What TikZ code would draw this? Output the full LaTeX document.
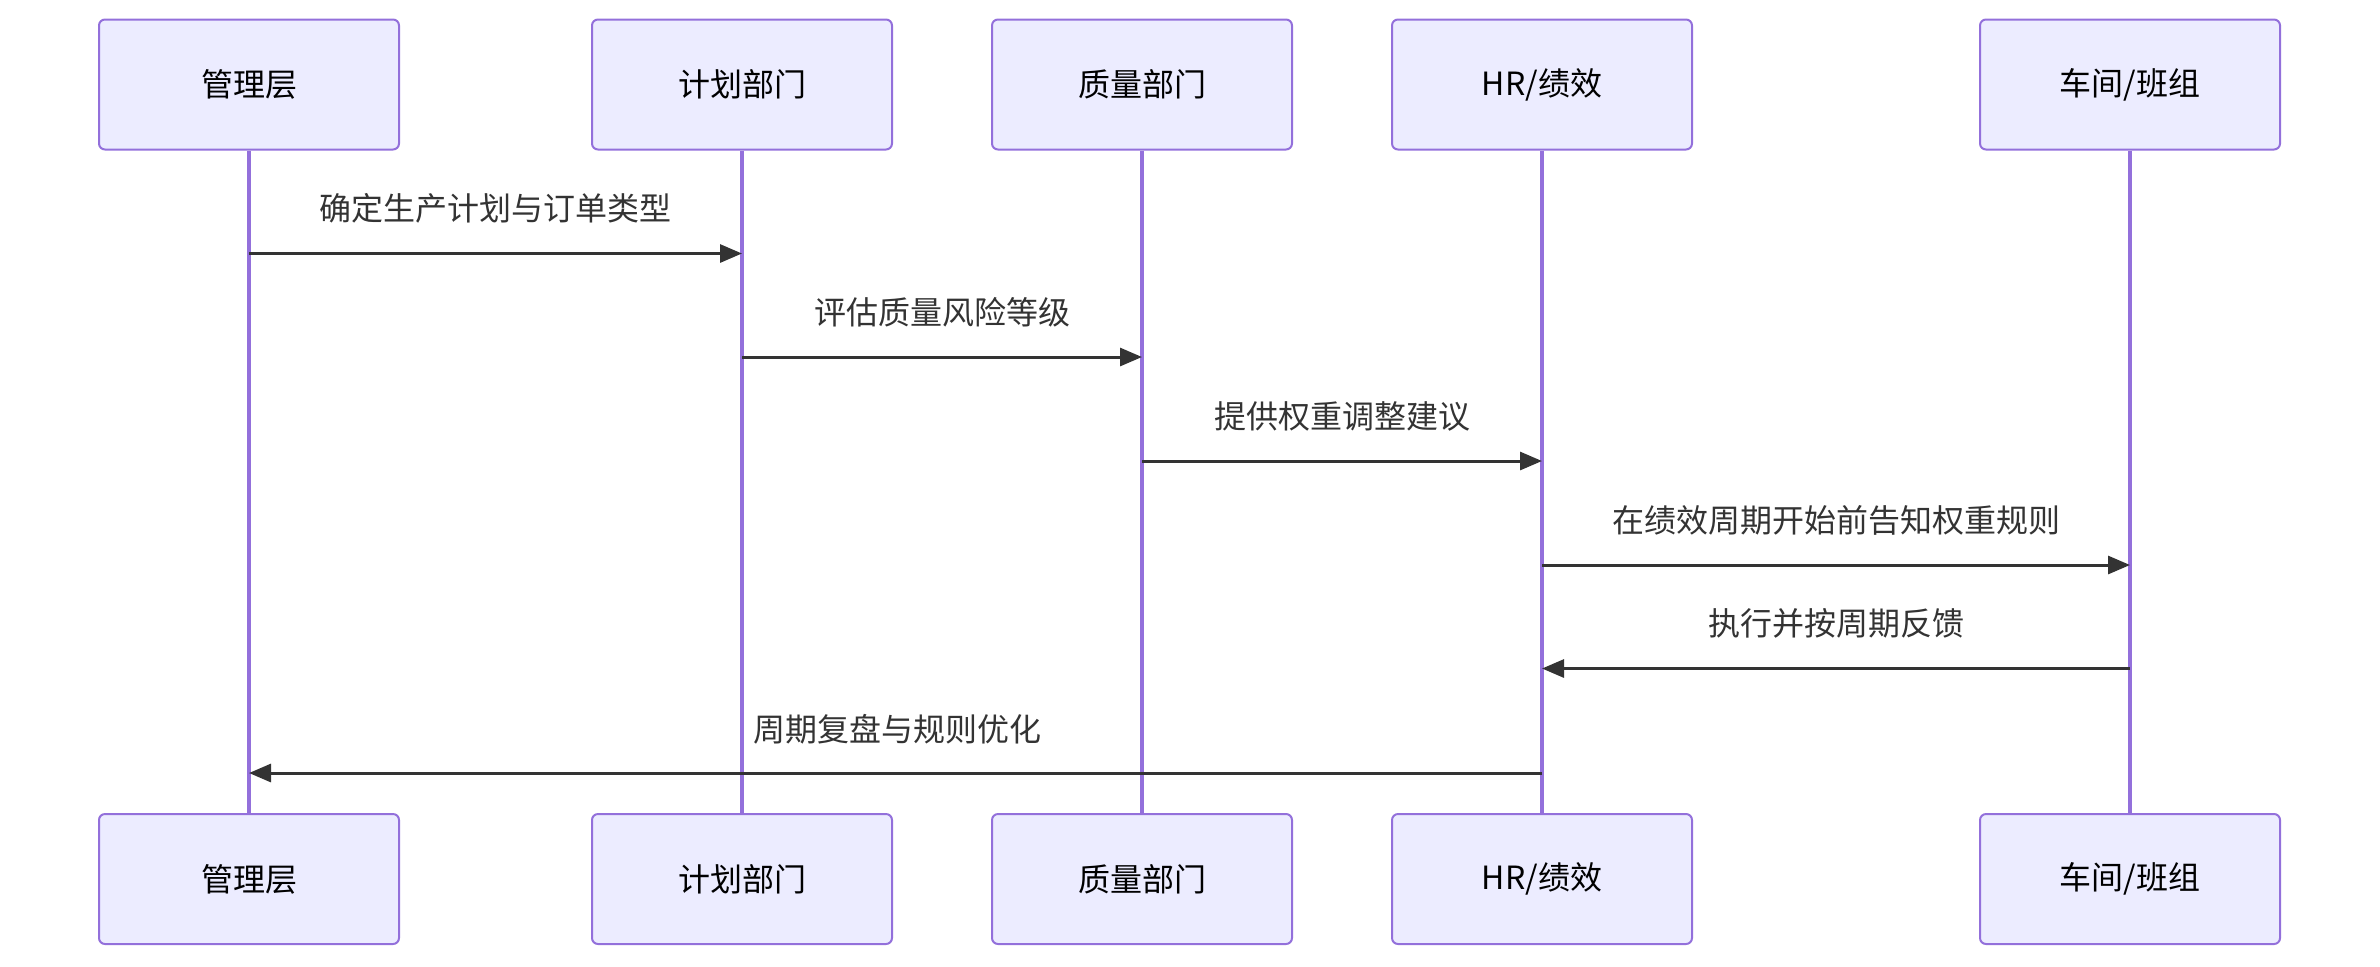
\documentclass[tikz,border=0pt]{standalone}
\usepackage{fontspec}
\setmainfont{Noto Sans CJK SC}
\usetikzlibrary{arrows.meta}
\definecolor{actfill}{HTML}{ECECFF}
\definecolor{actline}{HTML}{9370DB}
\definecolor{msgc}{HTML}{333333}
\tikzset{
  actor/.style={draw=actline, fill=actfill, line width=1pt, rounded corners=3pt,
    minimum width=150pt, minimum height=65pt, inner sep=0pt,
    font=\fontsize{16}{19}\selectfont, text=black},
  lifeline/.style={draw=actline, line width=2pt},
  msgline/.style={draw=msgc, line width=1.5pt, -{Triangle[length=11pt,width=9pt]}},
  msglabel/.style={font=\fontsize{16}{19}\selectfont, text=msgc, inner sep=0pt}
}
\begin{document}
\begin{tikzpicture}[x=0.5pt, y=-0.5pt]
\useasboundingbox (0,0) rectangle (2380,966);
% actors top
\node[actor] (a1) at (249,84.5) {\raisebox{-1pt}{管理层}};
\node[actor] (a2) at (742,84.5) {\raisebox{-1pt}{计划部门}};
\node[actor] (a3) at (1142,84.5) {\raisebox{-1pt}{质量部门}};
\node[actor] (a4) at (1542,84.5) {\raisebox{-1pt}{HR/绩效}};
\node[actor] (a5) at (2130,84.5) {\raisebox{-1pt}{车间/班组}};
% actors bottom
\node[actor] (b1) at (249,879) {管理层};
\node[actor] (b2) at (742,879) {计划部门};
\node[actor] (b3) at (1142,879) {质量部门};
\node[actor] (b4) at (1542,879) {HR/绩效};
\node[actor] (b5) at (2130,879) {车间/班组};
% lifelines
\foreach \i in {1,...,5} {
  \draw[lifeline] (a\i.south) -- (b\i.north);
}
% message anchor coordinates
\coordinate (m1s) at (249,253.5); \coordinate (m1e) at (742,253.5);
\coordinate (m2s) at (742,357); \coordinate (m2e) at (1142,357);
\coordinate (m3s) at (1142,461); \coordinate (m3e) at (1542,461);
\coordinate (m4s) at (1542,565); \coordinate (m4e) at (2130,565);
\coordinate (m5s) at (2130,668.5); \coordinate (m5e) at (1542,668.5);
\coordinate (m6s) at (1542,773); \coordinate (m6e) at (249,773);
\draw[msgline] (m1s) -- (m1e);
\draw[msgline] (m2s) -- (m2e);
\draw[msgline] (m3s) -- (m3e);
\draw[msgline] (m4s) -- (m4e);
\draw[msgline] (m5s) -- (m5e);
\draw[msgline] (m6s) -- (m6e);
% labels
\node[msglabel] (l1) at (495.5,208) {确定生产计划与订单类型};
\node[msglabel] (l2) at (942,312) {评估质量风险等级};
\node[msglabel] (l3) at (1342,416) {提供权重调整建议};
\node[msglabel] (l4) at (1836,520) {在绩效周期开始前告知权重规则};
\node[msglabel] (l5) at (1836,623) {执行并按周期反馈};
\node[msglabel] (l6) at (897,729) {周期复盘与规则优化};
\end{tikzpicture}
\end{document}
